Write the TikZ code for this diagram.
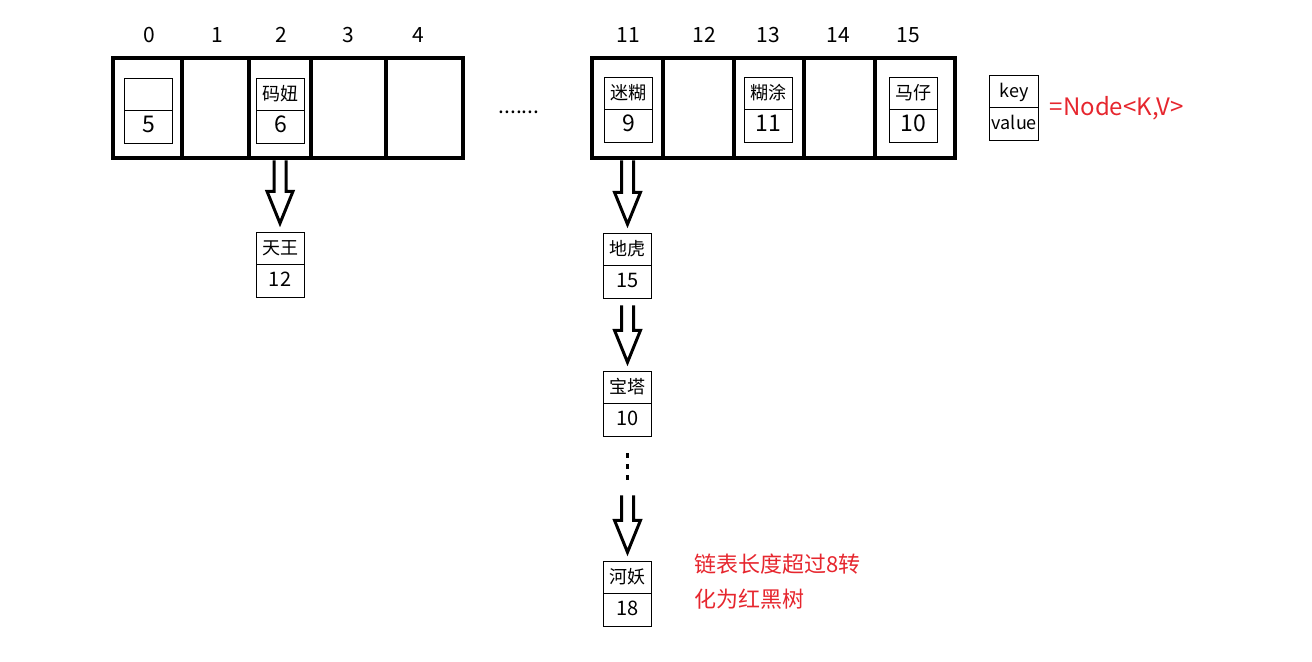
\documentclass[tikz,border=0pt]{standalone}
\usepackage{fontspec}
\setmainfont{Noto Sans CJK SC}
\usetikzlibrary{positioning,shapes.multipart,calc}
\definecolor{notered}{RGB}{230,38,46}
\newcommand{\vstrut}{\rule[-3.5pt]{0pt}{12pt}}
\newcommand{\valfont}{\fontsize{11.5}{13}\selectfont}

\begin{document}
\begin{tikzpicture}[x=0.5pt, y=-0.5pt, font=\fontsize{9}{11}\selectfont,
    cell/.style={draw, line width=2.25pt, minimum height=50pt, inner sep=0pt},
    idx/.style={inner sep=0pt, font=\fontsize{10.5}{12}\selectfont},
    entry/.style={draw, line width=0.5pt, rectangle split, rectangle split parts=2,
      minimum width=24pt, inner xsep=1pt, inner ysep=2pt, text height=8.5pt, text depth=3pt},
    hollow/.style={draw, line width=1.5pt, to path={let \p1=(\tikztostart), \p2=(\tikztotarget) in
      (\x2-3pt,\y1) -- (\x2-3pt,\y2+20.5pt) -- (\x2-6.5pt,\y2+20.5pt) -- (\x2,\y2+4.5pt)
      -- (\x2+6.5pt,\y2+20.5pt) -- (\x2+3pt,\y2+20.5pt) -- (\x2+3pt,\y1)}},
    gap/.style={line width=1.5pt, dash pattern=on 2.5pt off 3pt},
    note/.style={text=notered, align=left, inner sep=0pt, font=\fontsize{11}{17.5}\selectfont}]
  \useasboundingbox (0,0) rectangle (1312,661);

  % the table, buckets 0-4 and 11-15
  \foreach \a/\b/\n/\lx in {113/182/0/149, 182/249/1/217, 249/311/2/281, 311/386/3/348, 386/463/4/418,
      592/663/11/628, 663/734/12/704, 734/804/13/768, 804/875/14/838, 875/955/15/908}{
    \node[cell, minimum width=(\b-\a)*0.5pt] (c\n) at ({(\a+\b)/2},108) {};
    \node[idx] (i\n) at (\lx,35) {\n};
  }
  \node[idx] (dots) at (519,112) {.......};

  % entries inside the buckets
  \node[entry] (e0) at (148.5,111) {\nodepart{two}\vstrut\valfont 5};
  \node[entry] (mn) at (280.5,111) {码妞\nodepart{two}\vstrut\valfont 6};
  \node[entry] (mh) at (628.5,110) {迷糊\nodepart{two}\vstrut\valfont 9};
  \node[entry] (ht) at (768.5,110) {糊涂\nodepart{two}\vstrut\valfont 11};
  \node[entry] (mz) at (913,110) {马仔\nodepart{two}\vstrut\valfont 10};

  % legend
  \node[entry, right=16pt of c15] (kv) {key\nodepart{two}\vstrut value};
  \node[right=4pt of kv, inner sep=1pt, text=notered, font=\fontsize{12}{14}\selectfont] (nd) {=Node<K,V>};

  % linked lists
  \node[entry, below=36pt of c2] (tw) {天王\nodepart{two}\vstrut\fontsize{10}{12}\selectfont 12};
  \node[entry, below=36.5pt of c11] (dh) {地虎\nodepart{two}\vstrut\fontsize{10}{12}\selectfont 15};
  \node[entry, below=36pt of dh] (bt) {宝塔\nodepart{two}\vstrut\fontsize{10}{12}\selectfont 10};
  \node[entry, below=62pt of bt] (hy) {河妖\nodepart{two}\vstrut\fontsize{10}{12}\selectfont 18};

  \draw[hollow] (c2.south) to (tw.north);
  \draw[hollow] (c11.south) to (dh.north);
  \draw[hollow] ([yshift=-3pt]dh.south) to (bt.north);
  \draw[gap] ([yshift=-8pt]bt.south) -- ++(0,32) coordinate (dend);
  \draw[hollow] ([yshift=-5pt]dend) to (hy.north);

  \node[note, right=21pt of hy.north east, anchor=north west, yshift=4pt] (tree) {链表长度超过8转\\化为红黑树};
\end{tikzpicture}
\end{document}
